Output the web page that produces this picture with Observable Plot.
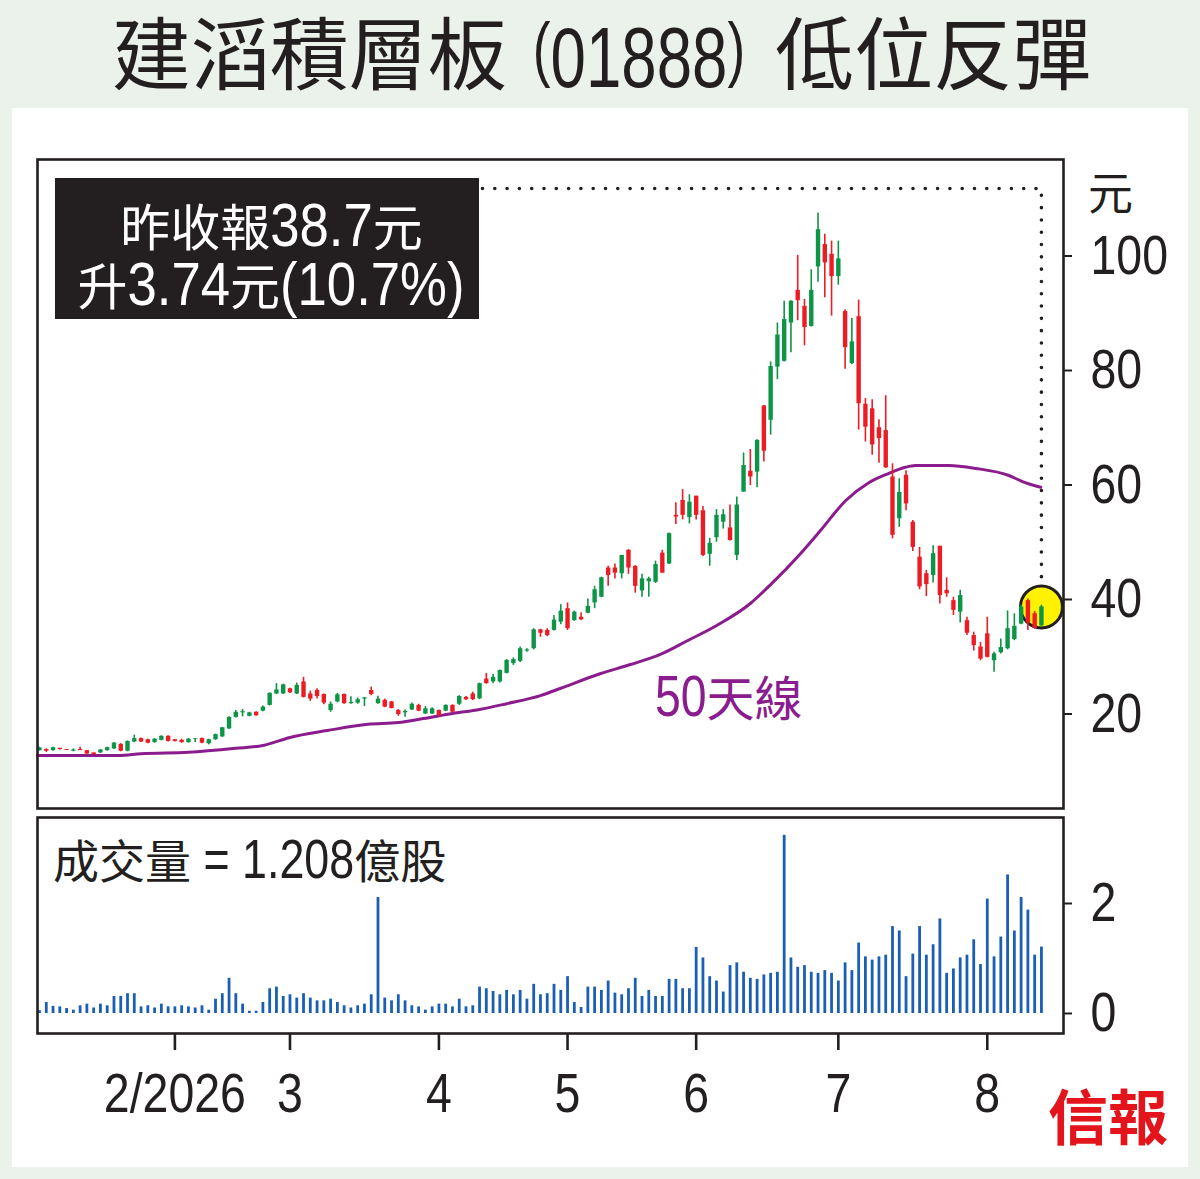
<!DOCTYPE html>
<html>
<head>
<meta charset="utf-8">
<script src="https://cdn.jsdelivr.net/npm/d3@7"></script>
<script src="https://cdn.jsdelivr.net/npm/@observablehq/plot@0.6"></script>
<style>
  html, body { margin: 0; padding: 0; }
  body { width: 1200px; height: 1179px; background: #ebf2eb; position: relative; overflow: hidden; color: #231f20; }
  .abs { position: absolute; }
  #panel { position: absolute; left: 12px; top: 108px; width: 1176px; height: 1059px; background: #fff; }
  svg { overflow: visible; }
</style>
</head>
<body>
<div id="panel"></div>
<div id="main" class="abs" style="left:0;top:140px"></div>
<div id="vol" class="abs" style="left:0;top:812px"></div>
<script>
// ---- data (one entry per trading day, Jan–Aug 2026) ----
const open = [
13.6,13.8,13.6,14.0,13.8,13.5,13.8,13.6,13.2,13.2,
13.6,13.9,14.7,13.5,15.1,15.7,15.5,15.0,15.4,16.1,
15.5,15.4,15.0,15.55,15.7,14.8,15.5,16.0,17.4,19.4,
20.2,19.6,20.3,20.5,21.5,23.5,23.5,24.4,23.5,25.6,
23.5,24.1,23.4,20.6,22.1,23.4,21.8,21.9,22.6,24.1,
21.8,22.4,22.1,20.6,20.2,20.7,21.5,20.0,20.0,20.6,
20.5,21.5,21.7,22.9,23.5,22.65,26.1,25.6,25.6,27.1,
28.8,29.2,31.0,31.4,34.7,34.6,34.6,36.05,38.4,36.3,
36.9,37.6,39.4,40.4,45.5,45.5,44.5,48.6,45.8,41.5,
43.1,43.0,48.1,46.2,54.7,57.3,54.3,58.05,55.5,47.9,
50.8,53.5,52.5,47.7,58.75,62.4,62.25,73.8,71.3,80.6,
81.6,88.3,94.0,91.2,87.7,98.1,102.0,100.3,96.4,90.3,
81.2,89.4,74.1,73.3,70.0,69.5,61.4,54.1,61.7,53.5,
47.4,44.5,44.2,49.3,41.6,39.8,37.8,36.3,33.7,31.7,
34.0,29.3,30.7,31.4,33.0,35.7,39.8,37.5,35.4
];
const high = [
14.2,13.9,14.2,14.0,13.8,13.9,14.2,13.6,13.2,13.8,
14.2,15.0,14.8,15.3,16.3,15.8,15.6,15.7,16.2,16.2,
15.5,15.6,15.7,15.7,15.8,15.6,16.5,17.6,19.5,20.6,
20.8,20.3,20.4,21.4,23.7,25.3,25.2,24.5,25.4,26.4,
24.0,24.4,23.5,22.1,23.6,23.5,23.0,22.8,22.9,24.7,
23.1,22.6,22.2,20.8,20.7,21.9,21.7,21.3,21.1,20.7,
21.6,21.6,23.2,23.06,23.8,25.4,27.1,26.9,27.7,29.5,
29.8,31.7,31.4,34.9,34.8,34.9,37.2,39.1,39.4,37.97,
37.7,40.1,42.3,43.9,45.8,46.2,47.7,48.7,45.9,44.4,
43.9,46.7,48.6,51.6,56.9,59.2,58.3,58.05,56.25,50.7,
55.7,55.7,56.5,57.9,65.6,66.2,67.9,73.9,81.5,88.3,
92.1,92.2,100.1,92.4,97.6,107.5,103.8,102.6,102.6,90.6,
89.1,92.3,75.1,74.9,71.4,75.6,63.7,61.1,62.5,53.8,
49.1,45.1,49.4,49.3,43.8,40.4,41.6,36.9,34.3,32.5,
36.9,30.8,33.1,38.0,37.5,39.0,40.1,37.9,39.0
];
const low = [
13.5,13.3,13.5,13.7,13.6,13.4,13.6,12.95,12.8,13.1,
13.5,13.8,13.4,13.4,15.0,15.0,14.8,14.9,15.3,15.1,
15.1,14.9,14.9,15.0,14.8,14.6,15.4,15.9,17.3,19.3,
19.5,19.5,19.6,20.4,21.4,23.4,23.4,23.6,23.4,22.8,
22.2,22.6,21.6,20.3,21.95,21.7,21.7,21.7,21.3,23.2,
21.7,21.1,20.9,19.6,19.45,20.6,20.4,19.9,19.9,19.6,
20.4,20.2,21.5,22.36,22.36,22.5,25.2,25.3,25.4,27.0,
28.5,29.0,30.8,31.2,33.4,33.5,34.5,35.6,34.6,36.2,
36.3,37.5,38.4,40.3,42.3,43.6,43.6,44.4,41.1,40.4,
40.4,42.8,44.6,46.1,53.1,53.9,53.2,53.9,47.5,45.8,
50.0,52.3,50.2,46.8,58.75,59.9,59.5,64.0,68.7,78.4,
81.5,83.1,88.7,84.3,87.6,95.4,92.7,89.5,94.9,80.2,
81.0,69.6,67.5,65.2,63.8,62.9,50.6,52.6,55.5,48.4,
41.7,40.5,42.9,39.2,40.4,37.2,35.9,33.7,31.0,29.3,
29.8,27.3,30.5,31.2,32.8,35.6,34.6,34.8,35.2
];
const close = [
14.05,13.5,14.1,13.8,13.65,13.7,13.6,13.0,12.9,13.7,
14.1,14.9,13.5,15.2,15.7,15.1,14.9,15.6,16.1,15.2,
15.2,15.0,15.6,15.65,14.9,15.5,16.4,17.6,19.4,20.3,
20.4,20.2,19.7,21.2,23.6,24.2,25.1,23.7,25.0,22.9,
22.6,23.06,21.9,21.7,23.35,21.8,22.0,22.5,22.8,23.4,
22.6,21.2,20.96,19.9,20.45,21.7,20.5,20.9,20.9,19.7,
21.5,20.3,23.06,22.5,22.5,25.3,25.3,26.4,27.6,29.35,
29.5,31.4,31.2,34.7,34.1,33.7,36.4,37.97,34.9,37.8,
36.45,38.8,41.7,43.8,44.2,44.6,47.7,45.5,42.3,43.6,
43.6,46.1,44.6,51.5,54.4,54.7,57.0,54.7,47.7,49.8,
54.7,54.8,50.3,56.5,63.4,61.4,67.8,65.9,80.7,86.2,
88.9,92.1,92.2,87.5,94.0,104.6,98.8,96.4,99.5,84.0,
85.0,74.2,70.1,67.0,68.1,63.0,51.2,58.7,56.7,49.1,
42.2,42.6,48.0,40.7,41.0,38.1,40.7,34.1,31.96,29.6,
29.9,30.5,31.6,34.9,35.3,38.7,35.9,34.96,38.7
];
// volume, 億股
const volume = [
0.05,0.2,0.13,0.12,0.09,0.06,0.14,0.17,0.1,0.17,
0.14,0.31,0.31,0.36,0.36,0.12,0.14,0.1,0.17,0.12,
0.12,0.14,0.12,0.1,0.14,0.06,0.26,0.36,0.64,0.36,
0.17,0.04,0.04,0.2,0.45,0.48,0.31,0.34,0.28,0.36,
0.28,0.23,0.23,0.26,0.2,0.14,0.1,0.14,0.17,0.34,
2.11,0.28,0.23,0.34,0.23,0.14,0.12,0.06,0.12,0.17,
0.17,0.12,0.26,0.12,0.14,0.48,0.45,0.40,0.34,0.42,
0.34,0.42,0.26,0.53,0.34,0.36,0.53,0.42,0.67,0.2,
0.11,0.48,0.48,0.42,0.59,0.37,0.34,0.45,0.64,0.31,
0.42,0.31,0.31,0.62,0.62,0.45,0.45,1.2,1.01,0.67,
0.59,0.39,0.87,0.92,0.75,0.64,0.62,0.70,0.73,0.75,
3.24,1.01,0.84,0.87,0.75,0.73,0.78,0.73,0.59,0.92,
0.78,1.28,1.03,0.97,1.03,1.06,1.58,1.50,0.67,1.08,
1.58,1.06,1.25,1.72,0.73,0.81,1.01,1.06,1.34,0.89,
2.08,1.03,1.39,2.52,1.50,2.11,1.88,1.06,1.208
];
// 50-day moving average read at points along the curve (x = trading-day index)
const maIndex = [-0.3, 11.7, 15, 22, 29, 33, 37, 42.5, 48.5, 53, 56.7, 61, 65, 69, 74, 77, 82.9, 87.3, 91.7, 95.7, 100.1, 105, 108, 112.4, 115.4, 119.1, 122.5, 125.4, 127.9, 129.4, 134.3, 138.3, 143.1, 145.2, 147.9];
const maValue = [12.75, 12.75, 13.05, 13.3, 14.0, 14.5, 15.9, 17.1, 18.2, 18.5, 19.2, 20.1, 20.8, 21.8, 23.2, 24.5, 27.07, 28.65, 30.4, 32.8, 35.5, 39.3, 42.6, 48.0, 52.1, 57.3, 60.4, 62.0, 63.1, 63.4, 63.4, 62.9, 61.7, 60.6, 59.6];
// month ticks: index of first trading day of each month
const monthTickIndex = [20, 37, 59, 78, 97, 118, 140];
const monthTickLabel = ["2/2026", "3", "4", "5", "6", "7", "8"];
const priceTicks = [20, 40, 60, 80, 100];
const volumeTicks = [0, 2];

// ---- styling ----
const GREEN = "#0c9447", RED = "#ec1c24", PURPLE = "#8b1c8d", BLUE = "#1a5fb4", INK = "#231f20", LOGO = "#e3141c";
// Latin face first (its metrics set the text box); CJK glyphs fall back to Noto Sans CJK TC
const CJK = "'Liberation Sans', 'Noto Sans CJK TC', sans-serif";
const LAT = "'Liberation Sans', Arial, sans-serif";
const NARROW = 0.83;

// ---- tables ----
const candles = d3.range(open.length).map(i => ({i, o: open[i], h: high[i], l: low[i], c: close[i], v: volume[i]}));
const ma = maIndex.map((x, k) => ({i: x, v: maValue[k]}));
const last = candles[candles.length - 1];
const annotLevel = 111.8;
const dotted = [{i: 40, v: annotLevel}, {i: last.i, v: annotLevel}, {i: last.i, v: last.c}];
const colorOf = d => d.c >= d.o ? GREEN : RED;
const xDomain = [-0.295, 151.26];
const labelOf = new Map(monthTickIndex.map((t, k) => [t, monthTickLabel[k]]));

function condenseAxisText(svg) {
  svg.querySelectorAll('g[aria-label$="tick label"] text').forEach(t => {
    const tr = t.getAttribute("transform");
    if (tr) t.setAttribute("transform", tr + ` scale(${NARROW},1)`);
    else {
      const x = +t.getAttribute("x") || 0;
      t.setAttribute("x", x / NARROW);
      t.setAttribute("transform", `scale(${NARROW},1)`);
    }
  });
}

const mainChart = Plot.plot({
  width: 1200, height: 672,
  marginTop: 19, marginBottom: 4, marginLeft: 37, marginRight: 137,
  x: {domain: xDomain, axis: null},
  y: {domain: [3.49, 116.86], axis: null},
  style: {background: "transparent", fontFamily: LAT, color: INK, overflow: "visible"},
  marks: [
    Plot.line(ma, {x: "i", y: "v", stroke: PURPLE, strokeWidth: 3, curve: "monotone-x"}),
    Plot.line(dotted, {x: "i", y: "v", stroke: INK, strokeWidth: 3.6, strokeDasharray: "0 12.3", strokeLinecap: "round"}),
    Plot.dot([last], {x: "i", y: "c", r: 21, fill: "#fff200", stroke: INK, strokeWidth: 3}),
    Plot.ruleX(candles, {x: "i", y1: "l", y2: "h", stroke: colorOf, strokeWidth: 1.6}),
    Plot.ruleX(candles, {x: "i", y1: "o", y2: "c", stroke: colorOf, strokeWidth: 4.4}),
    Plot.axisY({anchor: "right", ticks: priceTicks, tickSize: 8, tickPadding: 19, label: null, fontSize: 56, fontFamily: LAT, color: INK, strokeWidth: 2}),
    Plot.frame({stroke: INK, strokeWidth: 2.6})
  ]
});
condenseAxisText(mainChart);
document.getElementById("main").append(mainChart);

const volChart = Plot.plot({
  width: 1200, height: 367,
  marginTop: 5, marginBottom: 146, marginLeft: 37, marginRight: 137,
  x: {domain: xDomain, axis: null},
  y: {domain: [-0.364, 3.564], axis: null},
  style: {background: "transparent", fontFamily: LAT, color: INK, overflow: "visible"},
  marks: [
    Plot.ruleX(candles, {x: "i", y1: 0, y2: "v", stroke: BLUE, strokeWidth: 2.8}),
    Plot.axisY({anchor: "right", ticks: volumeTicks, tickFormat: d => String(d), tickSize: 8, tickPadding: 19, label: null, fontSize: 56, fontFamily: LAT, color: INK, strokeWidth: 2}),
    Plot.axisX({anchor: "bottom", ticks: monthTickIndex, tickFormat: d => labelOf.get(d), tickSize: 17, tickPadding: 22, label: null, fontSize: 56, fontFamily: LAT, color: INK, strokeWidth: 2.6}),
    Plot.frame({stroke: INK, strokeWidth: 2.6})
  ]
});
condenseAxisText(volChart);
document.getElementById("vol").append(volChart);

// ---- overlay: title, annotation box and labels (mixed CJK + condensed Latin text) ----
const NS = "http://www.w3.org/2000/svg";
const overlay = document.createElementNS(NS, "svg");
overlay.setAttribute("width", 1200); overlay.setAttribute("height", 1179);
overlay.setAttribute("style", "position:absolute;left:0;top:0;overflow:visible");
document.body.append(overlay);
function el(name, attrs) { const e = document.createElementNS(NS, name); for (const k in attrs) e.setAttribute(k, attrs[k]); return e; }
function compose(segs, {x, y, anchor = "start", fill = INK}) {
  const g = el("g", {fill}); overlay.append(g);
  const items = [];
  for (const s of segs) {
    const t = el("text", {"font-family": s.f, "font-size": s.size, "font-weight": s.w || 400});
    t.textContent = s.t; g.append(t);
    const sx = s.sx || 1;
    items.push({t, w: t.getComputedTextLength() * sx, sx, gap: s.gap || 0, dy: s.dy || 0});
  }
  const total = items.reduce((a, it) => a + it.gap + it.w, 0);
  let cx = anchor === "middle" ? x - total / 2 : anchor === "end" ? x - total : x;
  for (const it of items) {
    cx += it.gap;
    it.t.setAttribute("transform", `translate(${cx},${y + it.dy}) scale(${it.sx},1)`);
    cx += it.w;
  }
}
// title
compose([
  {t: "建滔積層板", f: CJK, size: 79},
  {t: "(", f: LAT, size: 72, sx: 0.74, gap: 26, dy: -11},
  {t: "01888", f: LAT, size: 86, sx: 0.74, dy: 3},
  {t: ")", f: LAT, size: 72, sx: 0.74, dy: -11},
  {t: "低位反彈", f: CJK, size: 79, gap: 30}
], {x: 601.5, y: 84, anchor: "middle"});
// annotation box
overlay.append(el("rect", {x: 55, y: 178, width: 424, height: 141, fill: INK}));
compose([
  {t: "昨收報", f: CJK, size: 50}, {t: "38.7", f: LAT, size: 62, sx: 0.85}, {t: "元", f: CJK, size: 50}
], {x: 271.5, y: 246, anchor: "middle", fill: "#ffffff"});
compose([
  {t: "升", f: CJK, size: 50}, {t: "3.74", f: LAT, size: 62, sx: 0.85}, {t: "元", f: CJK, size: 50},
  {t: "(10.7%)", f: LAT, size: 62, sx: 0.85}
], {x: 271, y: 305, anchor: "middle", fill: "#ffffff"});
// unit label
compose([{t: "元", f: CJK, size: 45}], {x: 1088, y: 210});
// moving average label
compose([{t: "50", f: LAT, size: 58, sx: 0.8}, {t: "天線", f: CJK, size: 48}], {x: 655, y: 716, fill: PURPLE});
// volume label
compose([
  {t: "成交量", f: CJK, size: 46}, {t: "\u00A0=\u00A01.208", f: LAT, size: 56, sx: 0.8}, {t: "億股", f: CJK, size: 46}
], {x: 53, y: 878});
// source logo
compose([{t: "信報", f: CJK, size: 60, w: 700}], {x: 1048, y: 1140, fill: LOGO});
</script>
</body>
</html>
